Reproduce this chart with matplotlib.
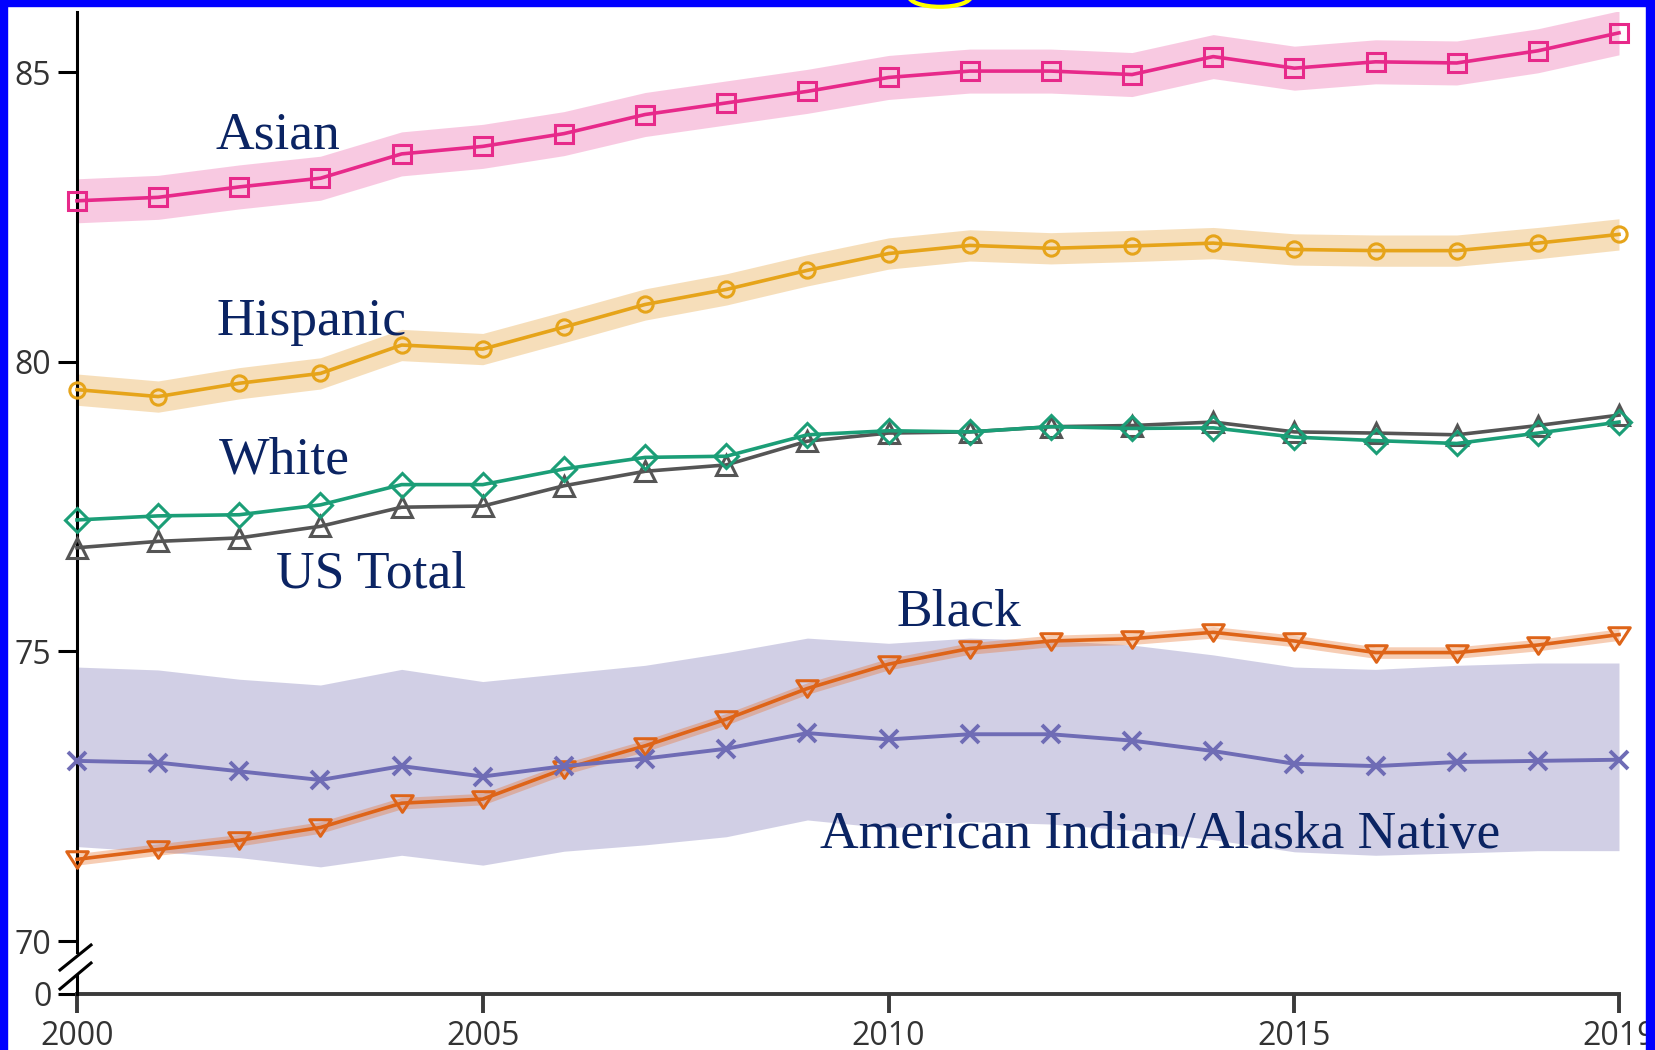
import numpy as np
import matplotlib.pyplot as plt
from matplotlib.patches import Rectangle, Ellipse
from matplotlib.lines import Line2D
from matplotlib.path import Path

# life expectancy at birth by race / ethnicity, 2000-2019
years = np.arange(2000, 2020)

asian = [82.78, 82.84, 83.02, 83.17, 83.59, 83.72, 83.94, 84.27, 84.47, 84.67,
         84.91, 85.02, 85.02, 84.96, 85.27, 85.07, 85.18, 85.16, 85.37, 85.68]
hispanic = [79.52, 79.40, 79.63, 79.80, 80.29, 80.22, 80.60, 80.99, 81.25, 81.58,
            81.87, 82.01, 81.96, 82.00, 82.05, 81.94, 81.92, 81.92, 82.05, 82.20]
white = [77.27, 77.34, 77.36, 77.53, 77.88, 77.88, 78.15, 78.35, 78.37, 78.74,
         78.81, 78.79, 78.88, 78.85, 78.86, 78.70, 78.64, 78.59, 78.77, 78.96]
us_total = [76.79, 76.90, 76.96, 77.16, 77.49, 77.51, 77.86, 78.11, 78.22, 78.63,
            78.77, 78.79, 78.88, 78.90, 78.96, 78.79, 78.77, 78.74, 78.90, 79.08]
black = [71.41, 71.58, 71.74, 71.96, 72.38, 72.45, 72.97, 73.37, 73.83, 74.36,
         74.78, 75.05, 75.18, 75.22, 75.33, 75.18, 74.98, 74.98, 75.11, 75.29]
aian = [73.11, 73.08, 72.93, 72.78, 73.02, 72.84, 73.02, 73.15, 73.32, 73.59,
        73.48, 73.57, 73.57, 73.46, 73.28, 73.06, 73.02, 73.09, 73.11, 73.13]
aian_upper = [74.73, 74.68, 74.52, 74.42, 74.69, 74.48, 74.62, 74.76, 74.98, 75.23,
              75.14, 75.23, 75.19, 75.11, 74.94, 74.73, 74.69, 74.76, 74.80, 74.80]
aian_lower = [71.63, 71.54, 71.44, 71.28, 71.48, 71.31, 71.55, 71.66, 71.80, 72.09,
              71.95, 72.06, 72.02, 71.91, 71.75, 71.54, 71.48, 71.52, 71.56, 71.56]

# half widths of the confidence bands
asian_ci = 0.38
hispanic_ci = 0.27
black_ci = 0.10

x_ticks = [2000, 2005, 2010, 2015, 2019]
y_ticks = [70, 75, 80, 85]

# the axis is broken between 0 and 70; 0 sits a little below 70
y_zero = 69.085
y_top = 86.04

navy = '#0b2463'
tick_grey = '#333333'

fig = plt.figure(figsize=(16.56, 10.5), dpi=100)
ax = fig.add_axes([77 / 1656, 56 / 1050, 1542 / 1656, 982 / 1050])
ax.set_xlim(2000, 2019)
ax.set_ylim(y_zero, y_top)

# bands
ax.fill_between(years, aian_lower, aian_upper, color='#7570b3', alpha=0.33, lw=0, zorder=1)
ax.fill_between(years, np.array(asian) - asian_ci, np.array(asian) + asian_ci,
                color='#e7298a', alpha=0.25, lw=0, zorder=1)
ax.fill_between(years, np.array(hispanic) - hispanic_ci, np.array(hispanic) + hispanic_ci,
                color='#e8a33a', alpha=0.35, lw=0, zorder=1)
ax.fill_between(years, np.array(black) - black_ci, np.array(black) + black_ci,
                color='#e8702a', alpha=0.35, lw=0, zorder=1)

down_tri = Path([(-1.0, 0.72), (1.0, 0.72), (0.0, -0.82), (-1.0, 0.72)],
                [Path.MOVETO, Path.LINETO, Path.LINETO, Path.CLOSEPOLY])

line_kw = dict(lw=2.6, markerfacecolor='none', mew=2.2, clip_on=False, zorder=3)
ax.plot(years, asian, color='#e7298a', marker='s', ms=13, **line_kw)
ax.plot(years, hispanic, color='#e6a41a', marker='o', ms=11, **line_kw)
ax.plot(years, us_total, color='#555555', marker='^', ms=15, **line_kw)
ax.plot(years, white, color='#1b9e77', marker='D', ms=12.5, **line_kw)
ax.plot(years, black, color='#de6418', marker=down_tri, ms=15.5, **line_kw)
ax.plot(years, aian, color='#6f6cb5', marker='x', ms=13, lw=2.8, mew=2.8,
        clip_on=False, zorder=3)

# series labels
label_kw = dict(family='Liberation Serif', fontsize=38.5, color=navy,
                ha='left', va='baseline', zorder=5)
ax.text(2001.71, 83.69, 'Asian', **label_kw)
ax.text(2001.72, 80.46, 'Hispanic', **label_kw)
ax.text(2001.75, 78.08, 'White', **label_kw)
ax.text(2002.45, 76.11, 'US Total', **label_kw)
ax.text(2010.10, 75.455, 'Black', **label_kw)
ax.text(2009.16, 71.605, 'American Indian/Alaska Native', **label_kw)

# axes styling
for side in ['top', 'right']:
    ax.spines[side].set_visible(False)
ax.spines['left'].set_bounds(69.81, y_top)
ax.spines['left'].set_linewidth(2.2)
ax.spines['left'].set_color('black')
ax.spines['bottom'].set_linewidth(2.8)
ax.spines['bottom'].set_color('#3a3a3a')

ax.set_yticks([y_zero] + y_ticks)
ax.set_yticklabels(['0'] + [str(v) for v in y_ticks])
ax.set_xticks(x_ticks)
ax.set_xticklabels([str(v) for v in x_ticks])
ax.tick_params(axis='y', length=13.5, width=2.2, color='black', pad=5,
               labelsize=23, labelcolor=tick_grey)
ax.tick_params(axis='x', length=13.5, width=2.8, color='#3a3a3a', pad=5,
               labelsize=23, labelcolor=tick_grey)
for lab in ax.get_xticklabels() + ax.get_yticklabels():
    lab.set_family('Open Sans')

# stub of the left axis below the break
ax.plot([2000, 2000], [69.41, y_zero], color='black', lw=2.2, clip_on=False, zorder=4)

# break marks on the y axis
for y0, y1 in [(970, 945), (989, 963)]:
    fig.add_artist(Line2D([60 / 1656, 91 / 1656], [1 - y0 / 1050, 1 - y1 / 1050],
                          color='black', lw=2.2, transform=fig.transFigure))

# frame around the figure
blue = '#0000ff'
fig.add_artist(Rectangle((0, 0), 7 / 1656, 1, color=blue, transform=fig.transFigure, zorder=10))
fig.add_artist(Rectangle((0, 1 - 6 / 1050), 1, 6 / 1050, color=blue,
                         transform=fig.transFigure, zorder=10))
fig.add_artist(Rectangle((1646 / 1656, 0), 10 / 1656, 1, color=blue,
                         transform=fig.transFigure, zorder=10))
fig.add_artist(Ellipse((940 / 1656, 1 + 3.7 / 1050), 62 / 1656, 21 / 1050,
                       facecolor=blue, edgecolor='#ffff00', lw=3,
                       transform=fig.transFigure, zorder=11, clip_on=False))

fig.savefig('out.png', dpi=100)
